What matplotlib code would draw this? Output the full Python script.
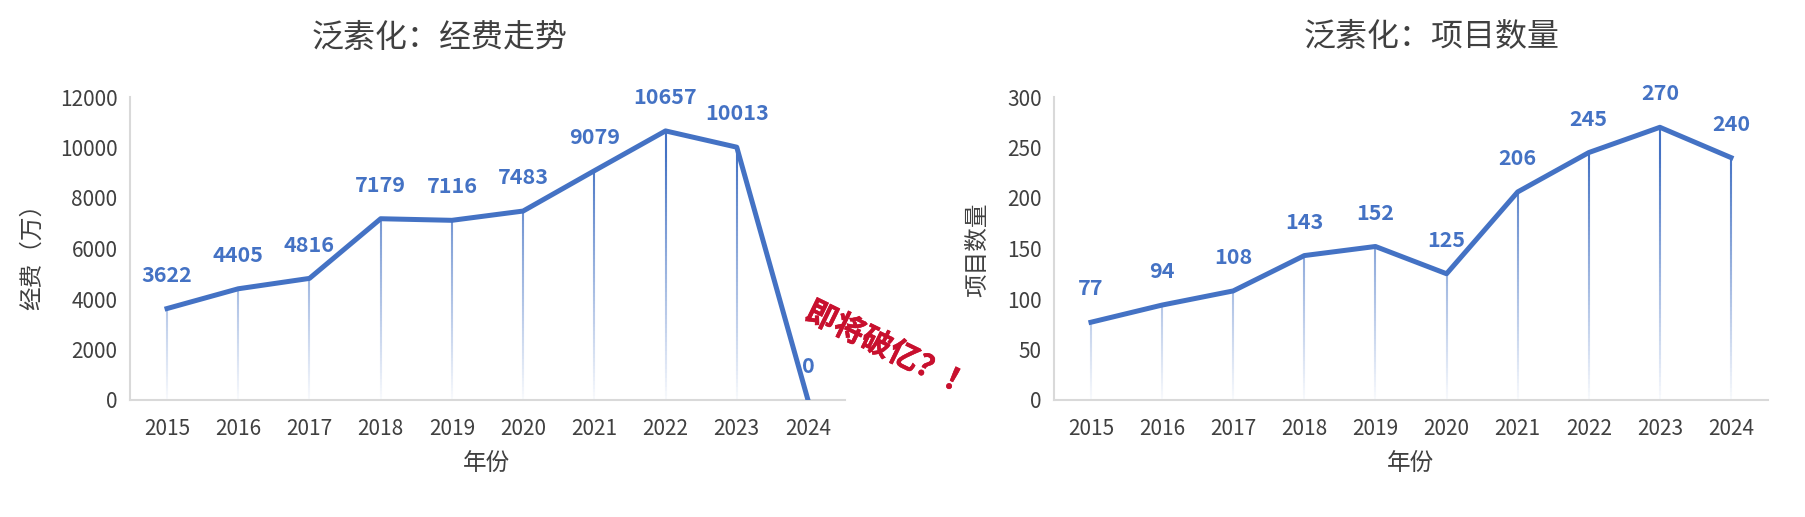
import numpy as np
import matplotlib
matplotlib.use('Agg')
from matplotlib import pyplot as plt
from matplotlib import patheffects
from matplotlib.collections import LineCollection

plt.rcParams['font.family'] = ['Noto Sans CJK SC', 'DejaVu Sans']

years = ['2015', '2016', '2017', '2018', '2019', '2020', '2021', '2022', '2023', '2024']
funding = [3622, 4405, 4816, 7179, 7116, 7483, 9079, 10657, 10013, 0]
projects = [77, 94, 108, 143, 152, 125, 206, 245, 270, 240]

BLUE = '#4472C4'
GREY_TXT = '#404040'
AXIS_GREY = '#D9D9D9'
RED = '#C8102E'


def drop_lines(ax, xs, ys, ymax):
    # vertical lines that fade toward the x axis
    segs, cols = [], []
    n = 60
    for x, y in zip(xs, ys):
        if y <= 0:
            continue
        edges = np.linspace(0, y, n + 1)
        for a, b in zip(edges[:-1], edges[1:]):
            segs.append([(x, a), (x, b)])
            frac = (a + b) / 2 / ymax
            cols.append((0x44 / 255, 0x72 / 255, 0xC4 / 255, min(1.0, 0.03 + 1.2 * frac)))
    ax.add_collection(LineCollection(segs, colors=cols, linewidths=1.5, zorder=2))


def draw(ax, vals, ymax, step):
    xs = np.arange(len(years))
    drop_lines(ax, xs, vals, ymax)
    ax.plot(xs, vals, color=BLUE, lw=3.6, solid_joinstyle='round', zorder=3)
    for x, v in zip(xs, vals):
        ax.annotate(str(v), (x, v), xytext=(0, 24), textcoords='offset points',
                    ha='center', va='center', color=BLUE, fontsize=15.5,
                    fontweight='bold', zorder=4)
    ax.set_xlim(-0.52, len(years) - 0.48)
    ax.set_ylim(0, ymax)
    ax.set_yticks(np.arange(0, ymax + 1, step))
    ax.set_xticks(xs)
    ax.set_xticklabels(years)
    ax.tick_params(length=0, labelsize=15, labelcolor=GREY_TXT)
    ax.tick_params(axis='x', pad=13)
    ax.tick_params(axis='y', pad=9)
    for s in ('top', 'right'):
        ax.spines[s].set_visible(False)
    for s in ('left', 'bottom'):
        ax.spines[s].set_color(AXIS_GREY)
        ax.spines[s].set_linewidth(1.5)


fig = plt.figure(figsize=(18.05, 5.17), dpi=100)
ax1 = fig.add_axes([130 / 1805, 1 - 400 / 517, 715 / 1805, 303 / 517])
ax2 = fig.add_axes([1054 / 1805, 1 - 400 / 517, 714 / 1805, 303 / 517])

draw(ax1, funding, 12000, 2000)
draw(ax2, projects, 300, 50)

fig.text(440 / 1805, 1 - 38 / 517, '泛素化：经费走势', ha='center', va='center',
         fontsize=23, color=GREY_TXT)
fig.text(1432 / 1805, 1 - 37 / 517, '泛素化：项目数量', ha='center', va='center',
         fontsize=23, color=GREY_TXT)
fig.text(487 / 1805, 1 - 463 / 517, '年份', ha='center', va='center',
         fontsize=17, color=GREY_TXT)
fig.text(1411 / 1805, 1 - 463 / 517, '年份', ha='center', va='center',
         fontsize=17, color=GREY_TXT)
fig.text(32 / 1805, 1 - 251 / 517, '经费（万）', ha='center', va='center',
         rotation=90, fontsize=17, color=GREY_TXT)
fig.text(978 / 1805, 1 - 250 / 517, '项目数量', ha='center', va='center',
         rotation=90, fontsize=17, color=GREY_TXT)

# the red remark, only a hair of stroke so it stays readable
fig.text(890 / 1805, 1 - 350 / 517, '即将破亿？！', ha='center', va='center',
         rotation=-26, fontsize=22, fontweight='heavy', color=RED,
         path_effects=[patheffects.withStroke(linewidth=0.4, foreground=RED)])

fig.savefig('out.png', dpi=100)
